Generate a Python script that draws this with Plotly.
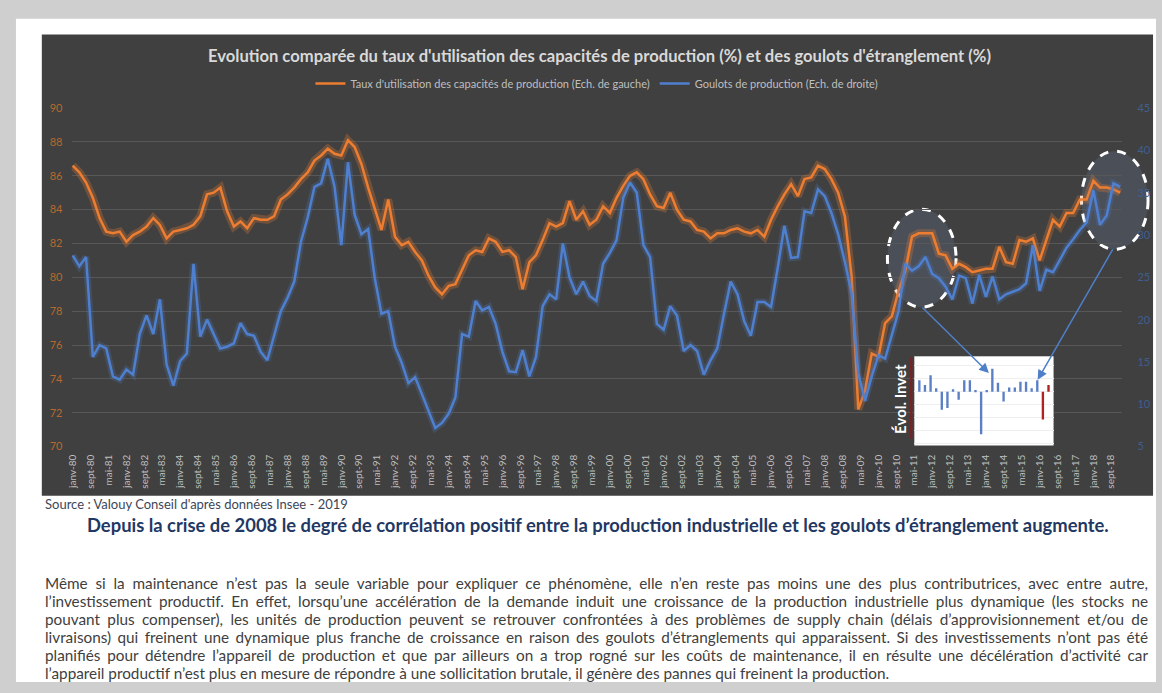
import json
import plotly.graph_objects as go
import pandas as pd

W, H = 1162, 693

# ---------------- DATA ----------------
dates = pd.date_range("1980-01-01", "2019-01-01", freq="QS")  # quarterly points

taux = [86.6, 86.2, 85.6, 84.7, 83.5, 82.7, 82.6, 82.7, 82.1, 82.5,
        82.7, 83.0, 83.5, 83.1, 82.3, 82.7, 82.8, 82.9, 83.1, 83.6,
        84.9, 85.0, 85.3, 83.9, 83.0, 83.3, 82.9, 83.5, 83.4, 83.4,
        83.6, 84.6, 84.9, 85.3, 85.8, 86.2, 86.9, 87.2, 87.6, 87.3,
        87.2, 88.1, 87.7, 86.7, 85.3, 84.0, 82.8, 84.6, 82.4, 81.9,
        82.1, 81.5, 81.0, 80.1, 79.4, 79.0, 79.5, 79.6, 80.5, 81.3,
        81.6, 81.5, 82.3, 82.1, 81.5, 81.6, 81.2, 79.3, 80.9, 81.3,
        82.2, 83.2, 83.0, 83.2, 84.5, 83.4, 83.9, 83.1, 83.4, 84.2,
        83.8, 84.7, 85.4, 86.0, 86.2, 85.8, 84.9, 84.2, 84.1, 85.0,
        84.0, 83.4, 83.3, 82.8, 82.7, 82.3, 82.6, 82.6, 82.8, 82.9,
        82.7, 82.6, 82.8, 82.4, 83.4, 84.2, 84.9, 85.5, 84.8, 85.8,
        85.9, 86.6, 86.4, 85.8, 85.0, 83.6, 80.0, 72.2, 73.3, 75.5,
        75.3, 77.3, 77.7, 79.2, 80.4, 82.4, 82.6, 82.6, 82.6, 81.4,
        81.3, 80.5, 80.8, 80.6, 80.3, 80.4, 80.5, 80.5, 81.8, 80.9,
        80.8, 82.2, 82.1, 82.3, 81.0, 82.2, 83.4, 83.0, 83.8, 83.8,
        84.6, 84.6, 85.7, 85.3, 85.3, 85.2, 85.0]

goulots = [27.6, 26.3, 27.4, 15.6, 17.0, 16.6, 13.3, 12.9, 14.1, 13.5,
           18.3, 20.5, 18.3, 22.4, 14.7, 12.2, 15.1, 16.0, 26.6, 18.0,
           20.0, 18.4, 16.6, 16.8, 17.2, 19.6, 18.3, 18.1, 16.2, 15.2,
           18.1, 21.0, 22.6, 24.5, 29.2, 32.1, 35.7, 36.1, 39.0, 35.7,
           28.8, 38.6, 32.4, 30.1, 30.7, 24.9, 20.7, 21.0, 16.8, 14.9,
           12.5, 13.2, 11.2, 9.3, 7.2, 7.8, 8.9, 10.8, 18.3, 18.0,
           22.2, 21.1, 21.5, 19.5, 16.2, 13.9, 13.8, 16.4, 13.3, 15.6,
           21.6, 23.0, 22.4, 29.0, 25.0, 23.0, 24.5, 22.8, 22.2, 26.6,
           27.9, 29.4, 34.4, 36.2, 35.0, 28.8, 27.4, 19.5, 18.8, 21.6,
           20.5, 16.3, 17.0, 16.3, 13.5, 15.2, 16.6, 20.7, 24.5, 23.0,
           19.8, 18.1, 22.1, 22.1, 21.5, 26.1, 31.1, 27.3, 27.4, 32.8,
           32.6, 35.4, 34.6, 32.6, 30.1, 26.8, 23.0, 13.7, 10.4, 13.3,
           15.8, 15.4, 18.3, 21.0, 26.6, 25.8, 26.3, 27.4, 25.4, 24.9,
           23.9, 22.4, 25.2, 24.9, 21.9, 25.3, 22.7, 25.1, 22.4, 23.0,
           23.3, 23.6, 24.3, 28.8, 23.4, 25.9, 25.6, 27.1, 28.5, 29.5,
           30.6, 31.5, 35.3, 31.2, 32.3, 36.1, 35.7]

tick_dates = pd.date_range("1980-01-01", "2018-09-01", freq="8MS")
mois_fr = {1: "janv", 5: "mai", 9: "sept"}
tick_labels = [f"{mois_fr[d.month]}-{d.year % 100:02d}" for d in tick_dates]

# small inset chart ("Évol. Invet")
inset_idx = list(range(24))
inset_vals = [35, 20, 50, 10, -55, -50, 7, -25, 35, 35, 5, -130,
              5, 70, 27, -30, 13, 13, 30, 30, 10, 35, -85, 20]
inset_cols = ["#5b7fc4"] * 22 + ["#b42020", "#b42020"]

name_taux = "Taux d'utilisation des capacités de production (Ech. de gauche)"
name_goul = "Goulots de production (Ech. de droite)"

title_txt = ("Evolution comparée du taux d'utilisation des capacités de production (%) "
             "et des goulots d'étranglement (%)")
source_txt = "Source : Valouy Conseil d'après données Insee - 2019"
heading_txt = ("Depuis la crise de 2008 le degré de corrélation positif entre la production "
               "industrielle et les goulots d’étranglement augmente.")
para_lines = [
    "Même si la maintenance n’est pas la seule variable pour expliquer ce phénomène, elle n’en reste pas moins une des plus contributrices, avec entre autre,",
    "l’investissement productif. En effet, lorsqu’une accélération de la demande induit une croissance de la production industrielle plus dynamique (les stocks ne",
    "pouvant plus compenser), les unités de production peuvent se retrouver confrontées à des problèmes de supply chain (délais d’approvisionnement et/ou de",
    "livraisons) qui freinent une dynamique plus franche de croissance en raison des goulots d’étranglements qui apparaissent. Si des investissements n’ont pas été",
    "planifiés pour détendre l’appareil de production et que par ailleurs on a trop rogné sur les coûts de maintenance, il en résulte une décélération d’activité car",
    "l’appareil productif n’est plus en mesure de répondre à une sollicitation brutale, il génère des pannes qui freinent la production.",
]


def px(x):
    return x / W


def py(y):
    return 1 - y / H


FONT = "Lato, 'Open Sans', sans-serif"
ORANGE = "#ED7D31"
BLUE = "#4F7FCF"

fig = go.Figure()

# glow traces
fig.add_trace(go.Scatter(x=dates, y=taux, mode="lines", showlegend=False, hoverinfo="skip",
                         line=dict(color="rgba(237,125,49,0.28)", width=8)))
fig.add_trace(go.Scatter(x=dates, y=goulots, mode="lines", showlegend=False, hoverinfo="skip",
                         yaxis="y2", line=dict(color="rgba(79,127,207,0.22)", width=7)))
# main lines
fig.add_trace(go.Scatter(x=dates, y=taux, mode="lines", name=name_taux,
                         line=dict(color=ORANGE, width=2.5)))
fig.add_trace(go.Scatter(x=dates, y=goulots, mode="lines", name=name_goul, yaxis="y2",
                         line=dict(color=BLUE, width=2.5)))
# inset bars
fig.add_trace(go.Bar(x=inset_idx, y=inset_vals, xaxis="x3", yaxis="y3", showlegend=False,
                     marker=dict(color=inset_cols, line=dict(width=0)), width=0.42,
                     hoverinfo="skip"))

shapes = [
    dict(type="rect", xref="paper", yref="paper", x0=px(10), x1=px(1156), y0=py(12), y1=py(688),
         fillcolor="white", line=dict(width=0), layer="below"),
    dict(type="rect", xref="paper", yref="paper", x0=px(36), x1=px(1153), y0=py(28), y1=py(498),
         fillcolor="#404040", line=dict(width=0), layer="below"),
    dict(type="circle", xref="paper", yref="paper", x0=px(886), x1=px(955), y0=py(206), y1=py(306),
         fillcolor="rgba(120,150,200,0.18)", line=dict(color="white", width=3, dash="dash"),
         layer="below"),
    dict(type="circle", xref="paper", yref="paper", x0=px(1081), x1=px(1148), y0=py(147), y1=py(247),
         fillcolor="rgba(120,150,200,0.18)", line=dict(color="white", width=3, dash="dash"),
         layer="below"),
    dict(type="rect", xref="x3", yref="y3", x0=-0.9, x1=23.9, y0=-165, y1=108,
         fillcolor="white", line=dict(color="#d8d8d8", width=1), layer="below"),
    dict(type="line", xref="paper", yref="paper", x0=px(910), x1=px(910), y0=py(357), y1=py(440),
         line=dict(color="#8b1a1a", width=2), layer="above"),
]

annotations = [
    dict(text="<b>" + title_txt + "</b>", x=px(597), y=py(50), xref="paper", yref="paper",
         showarrow=False, font=dict(family=FONT, size=16.6, color="#d9d9d9"),
         xanchor="center", yanchor="middle"),
    dict(text="<b>Évol. Invet</b>", x=px(898), y=py(399), xref="paper", yref="paper",
         showarrow=False, textangle=-90, font=dict(family=FONT, size=15, color="white"),
         xanchor="center", yanchor="middle"),
    dict(text="", x=px(988), y=py(373), xref="paper", yref="paper", showarrow=True,
         ax=-68, ay=-67, arrowhead=2, arrowsize=1.3, arrowwidth=1.5, arrowcolor="#4f7fc8"),
    dict(text="", x=px(1037), y=py(380), xref="paper", yref="paper", showarrow=True,
         ax=76, ay=-132, arrowhead=2, arrowsize=1.3, arrowwidth=1.5, arrowcolor="#4f7fc8"),
    dict(text=source_txt, x=px(37), y=py(507), xref="paper", yref="paper", showarrow=False,
         font=dict(family=FONT, size=13, color="#3c4657"), xanchor="left", yanchor="middle"),
    dict(text="<b>" + heading_txt + "</b>", x=px(595), y=py(528), xref="paper", yref="paper",
         showarrow=False, font=dict(family=FONT, size=18.4, color="#1f3864"),
         xanchor="center", yanchor="middle"),
]
for i, line in enumerate(para_lines):
    annotations.append(dict(text=line, x=px(37), y=py(587 + 18.3 * i), xref="paper", yref="paper",
                            showarrow=False, align="left",
                            font=dict(family=FONT, size=15.3, color="#404040"),
                            xanchor="left", yanchor="middle"))

fig.update_layout(
    width=W, height=H,
    margin=dict(l=0, r=0, t=0, b=0),
    paper_bgcolor="#cfcfcf",
    plot_bgcolor="rgba(0,0,0,0)",
    font=dict(family=FONT),
    showlegend=True,
    legend=dict(orientation="h", x=px(594), y=py(78), xanchor="center", yanchor="middle",
                font=dict(family=FONT, size=11, color="#bfbfbf"), bgcolor="rgba(0,0,0,0)",
                itemwidth=30),
    xaxis=dict(type="date", domain=[px(66), px(1122)], range=["1979-12-18", "2019-01-28"],
               tickmode="array", tickvals=tick_dates, ticktext=tick_labels, tickangle=-90,
               tickfont=dict(family=FONT, size=10, color="#bfbfbf"), showgrid=False,
               showline=False, zeroline=False, ticks="outside", ticklen=3,
               tickcolor="rgba(0,0,0,0)", anchor="y"),
    yaxis=dict(domain=[py(448), py(103)], range=[70, 90], dtick=2, gridcolor="#575757",
               gridwidth=1, tickfont=dict(family=FONT, size=11, color="#b8682e"),
               showline=False, zeroline=False, ticks="outside", ticklen=6,
               tickcolor="rgba(0,0,0,0)"),
    yaxis2=dict(overlaying="y", side="right", range=[5, 45], dtick=5, showgrid=False,
                tickfont=dict(family=FONT, size=11, color="#3f5f8f"), showline=False,
                zeroline=False, ticks="outside", ticklen=12, tickcolor="rgba(0,0,0,0)"),
    xaxis3=dict(domain=[px(913), px(1053)], range=[-0.9, 23.9], visible=False, anchor="y3"),
    yaxis3=dict(domain=[py(447), py(356)], range=[-165, 108], anchor="x3", showgrid=True,
                gridcolor="#eeeeee", dtick=40, showticklabels=False, zeroline=False,
                showline=False),
    shapes=shapes,
    annotations=annotations,
    bargap=0.5,
)

# remove the default page margin and justify the paragraph lines (except the last one)
justify_lines = json.dumps(para_lines[:-1])
post_js = """
document.body.style.margin = '0px';
(function(){
  var lines = %s;
  var target = 1103;
  document.querySelectorAll('text.annotation-text').forEach(function(t){
    var s = t.textContent;
    if (lines.indexOf(s) >= 0) {
      var n = (s.match(/ /g) || []).length;
      var len = t.getComputedTextLength();
      if (n > 0 && len < target) {
        t.style.wordSpacing = ((target - len) / n) + 'px';
      }
    }
  });
})();
""" % justify_lines

fig.write_html("out.html", post_script=post_js, config={"displayModeBar": False})
